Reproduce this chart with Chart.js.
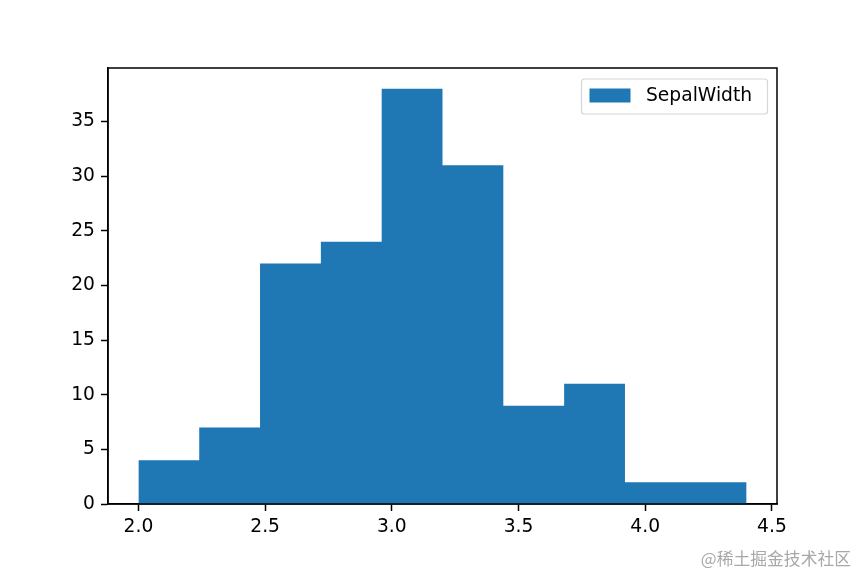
<!DOCTYPE html>
<html>
<head>
<meta charset="utf-8">
<script src="https://cdn.jsdelivr.net/npm/chart.js@4"></script>
<style>
  html, body { margin: 0; padding: 0; background: #fff; }
  canvas { display: block; }
</style>
</head>
<body>
<canvas id="hist" width="865" height="577"></canvas>
<script>
// 直方图数据 - 鸢尾花 SepalWidth
const binEdges = [2.0, 2.24, 2.48, 2.72, 2.96, 3.2, 3.44, 3.68, 3.92, 4.16, 4.4];
const binCounts = [4, 7, 22, 24, 38, 31, 9, 11, 2, 2];
const xTicks = [2.0, 2.5, 3.0, 3.5, 4.0, 4.5];
const yTicks = [0, 5, 10, 15, 20, 25, 30, 35];
const seriesLabel = 'SepalWidth';
const watermark = '@稀土掘金技术社区';

const FONT = 'DejaVu Sans';
const BLUE = '#1f77b4';

// 阶梯线的点: 从 (2.0, 0) 开始, 每个 bin 左边沿取值, 最后回到 0
function buildSteps() {
  const pts = [{ x: binEdges[0], y: 0 }];
  for (let i = 0; i < binCounts.length; i++) {
    pts.push({ x: binEdges[i], y: binCounts[i] });
  }
  const last = binEdges[binEdges.length - 1];
  pts.push({ x: last, y: binCounts[binCounts.length - 1] });
  pts.push({ x: last, y: 0 });
  return pts;
}

// 边框 + 图例 + 水印
const framePlugin = {
  id: 'frame',
  afterDraw(chart) {
    const ctx = chart.ctx;
    const a = chart.chartArea;
    ctx.save();
    ctx.strokeStyle = '#000';
    ctx.lineWidth = 1.5;
    ctx.strokeRect(a.left, a.top, a.right - a.left, a.bottom - a.top);

    // 图例
    const lx = 581.5, ly = 79, lw = 186, lh = 35;
    ctx.beginPath();
    ctx.roundRect(lx, ly, lw, lh, 3);
    ctx.fillStyle = 'rgba(255,255,255,0.8)';
    ctx.fill();
    ctx.strokeStyle = '#d6d6d6';
    ctx.lineWidth = 1.2;
    ctx.stroke();
    ctx.fillStyle = chart.data.datasets[0].backgroundColor;
    ctx.fillRect(589.5, 88.5, 41, 14);
    ctx.fillStyle = '#000';
    ctx.font = '18.7px "' + FONT + '"';
    ctx.textBaseline = 'middle';
    ctx.textAlign = 'left';
    ctx.fillText(chart.data.datasets[0].label, 646, 96);

    // 水印
    ctx.fillStyle = '#a8a8a8';
    ctx.font = '16.8px "Noto Sans CJK SC"';
    ctx.textAlign = 'right';
    ctx.fillText(watermark, 851, 559);
    ctx.restore();
  }
};

new Chart(document.getElementById('hist'), {
  type: 'line',
  data: {
    datasets: [{
      label: seriesLabel,
      data: buildSteps(),
      stepped: 'before',
      fill: 'origin',
      backgroundColor: BLUE,
      borderColor: BLUE,
      borderWidth: 0,
      pointRadius: 0,
      tension: 0
    }]
  },
  options: {
    responsive: false,
    animation: false,
    devicePixelRatio: 1,
    layout: { padding: { left: 0, top: 68, right: 88, bottom: 0 } },
    plugins: {
      legend: { display: false },
      tooltip: { enabled: false }
    },
    scales: {
      x: {
        type: 'linear',
        min: 1.88,
        max: 4.52,
        afterBuildTicks(scale) {
          scale.ticks = xTicks.map(v => ({ value: v }));
        },
        afterFit(scale) { scale.height = 73; },
        grid: {
          drawOnChartArea: false,
          tickLength: 7,
          tickWidth: 1.5,
          tickColor: '#000'
        },
        border: { color: '#000', width: 1.5 },
        ticks: {
          color: '#000',
          padding: 5,
          maxRotation: 0,
          font: { family: FONT, size: 18.7 },
          callback: v => Number(v).toFixed(1)
        }
      },
      y: {
        type: 'linear',
        min: 0,
        max: 39.9,
        afterBuildTicks(scale) {
          scale.ticks = yTicks.map(v => ({ value: v }));
        },
        afterFit(scale) { scale.width = 108; },
        grid: {
          drawOnChartArea: false,
          tickLength: 7,
          tickWidth: 1.5,
          tickColor: '#000'
        },
        border: { color: '#000', width: 1.5 },
        ticks: {
          color: '#000',
          padding: 6,
          font: { family: FONT, size: 18.7 },
          callback: v => String(v)
        }
      }
    }
  },
  plugins: [framePlugin]
});
</script>
</body>
</html>
